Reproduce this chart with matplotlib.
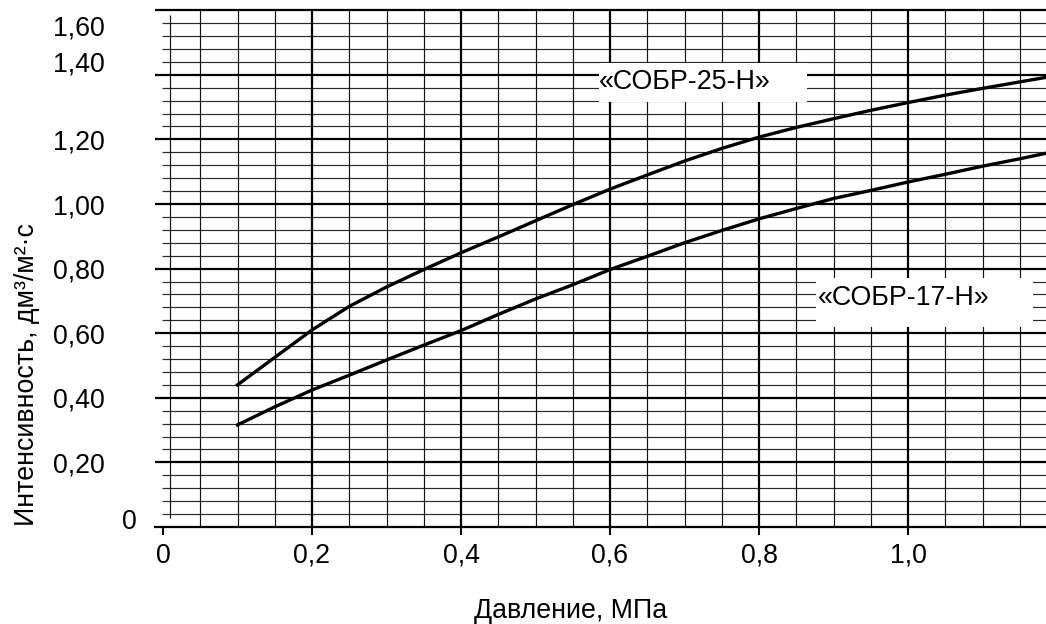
import numpy as np
import matplotlib
matplotlib.use('Agg')
import matplotlib.pyplot as plt
from matplotlib.patches import Rectangle

plt.rcParams['font.family'] = ['Liberation Sans', 'DejaVu Sans']
FS = 19.3

# pressure, MPa
pressure = [0.1, 0.15, 0.2, 0.25, 0.3, 0.35, 0.4, 0.45, 0.5, 0.55, 0.6, 0.65,
            0.7, 0.75, 0.8, 0.85, 0.9, 0.95, 1.0, 1.05, 1.1, 1.15, 1.185]
# intensity, dm3/m2*s
sobr25 = [0.44, 0.525, 0.610, 0.683, 0.743, 0.797, 0.849, 0.898, 0.948, 0.998,
          1.046, 1.090, 1.133, 1.172, 1.207, 1.237, 1.264, 1.290, 1.314, 1.337,
          1.358, 1.378, 1.392]
sobr17 = [0.316, 0.372, 0.424, 0.470, 0.517, 0.563, 0.608, 0.658, 0.706, 0.750,
          0.797, 0.838, 0.880, 0.918, 0.954, 0.986, 1.017, 1.042, 1.068, 1.092,
          1.117, 1.140, 1.157]

x_ticks = [0, 0.2, 0.4, 0.6, 0.8, 1.0]
x_labels = ['0', '0,2', '0,4', '0,6', '0,8', '1,0']
y_tick_pos = [0.2, 0.4, 0.6, 0.8, 1.0, 1.2, 1.44, 1.554]
y_labels = ['0,20', '0,40', '0,60', '0,80', '1,00', '1,20', '1,40', '1,60']

W, H = 1046, 624
fig = plt.figure(figsize=(W / 100, H / 100), dpi=100)
# axes box in pixels: left 155, right 1046, bottom 527, top 8
ax = fig.add_axes([155 / W, (H - 527) / H, (W - 155) / W, (527 - 8) / H])
xmin, xmax = (155 - 163) / 745, (1046 - 163) / 745
ymin, ymax = 0, (527 - 8) / 323
ax.set_xlim(xmin, xmax)
ax.set_ylim(ymin, ymax)

# grid
minor_x = [v for v in np.arange(0.05, 1.19, 0.05) if abs(v / 0.2 - round(v / 0.2)) > 0.01]
major_x = np.arange(0.2, 1.01, 0.2)
minor_y = [v for v in np.arange(0.04, 1.6, 0.04) if abs(v / 0.2 - round(v / 0.2)) > 0.01]
major_y = np.arange(0.2, 1.61, 0.2)

ax.hlines(minor_y, -0.001, xmax, colors='#2a2a2a', linewidth=0.85, zorder=1)
ax.vlines(minor_x, 0, 1.6, colors='#111111', linewidth=0.85, zorder=1)
ax.vlines([0.009], 0.028, 1.585, colors='#111111', linewidth=0.85, zorder=1)
ax.hlines(major_y, xmin, xmax, colors='black', linewidth=1.6, zorder=2, clip_on=False)
ax.vlines(major_x, 0, 1.6, colors='black', linewidth=1.6, zorder=2)

# curves
ax.plot(pressure, sobr25, color='black', linewidth=2.4, zorder=4)
ax.plot(pressure, sobr17, color='black', linewidth=2.4, zorder=4)

# label boxes
ax.add_patch(Rectangle((0.585, 1.316), 0.279, 0.121, facecolor='white', edgecolor='none', zorder=3))
ax.add_patch(Rectangle((0.8765, 0.619), 0.2915, 0.152, facecolor='white', edgecolor='none', zorder=3))
ax.text(0.585, 1.378, '«СОБР-25-Н»', fontsize=FS, ha='left', va='center', zorder=5)
ax.text(0.879, 0.709, '«СОБР-17-Н»', fontsize=FS, ha='left', va='center', zorder=5)

# spines and ticks
for s in ['top', 'right', 'left']:
    ax.spines[s].set_visible(False)
ax.spines['bottom'].set_linewidth(1.6)
ax.spines['bottom'].set_zorder(2)

ax.set_xticks(x_ticks, x_labels)
ax.tick_params(axis='x', direction='out', length=5.8, width=1.5, pad=5.5, labelsize=FS)
ax.set_yticks(y_tick_pos, y_labels)
ax.tick_params(axis='y', length=0, pad=36, labelsize=FS)
for lab in ax.get_yticklabels():
    lab.set_horizontalalignment('right')

ax.annotate('0', xy=(0, 0.015), xycoords=('axes fraction', 'data'),
            xytext=(-18, 0), textcoords='offset pixels',
            ha='right', va='center', fontsize=FS)

fig.text(571 / W, 1 - 618 / H, 'Давление, МПа', ha='center', va='baseline', fontsize=FS)
fig.text(27 / W, 1 - 375 / H, 'Интенсивность, дм³/м²·с', ha='center', va='center',
         rotation=90, fontsize=FS)

fig.savefig('out.png', dpi=100)
